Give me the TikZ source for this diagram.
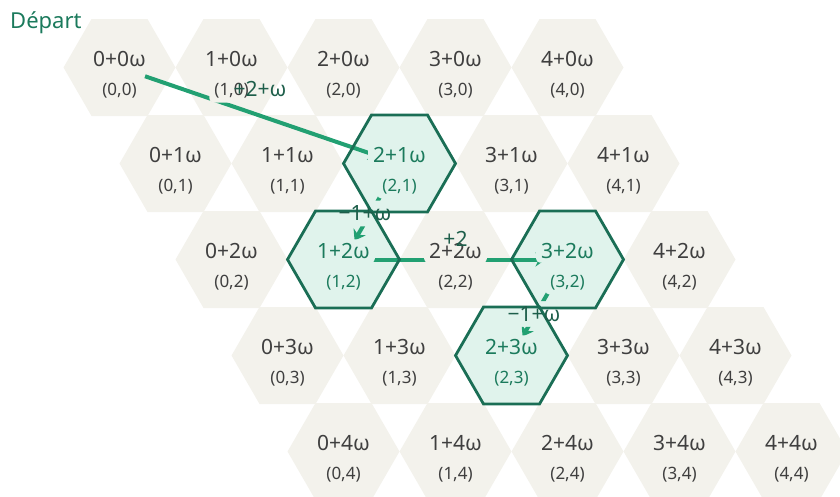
\documentclass[tikz,border=0pt]{standalone}
\usepackage{fontspec}
\setmainfont{Noto Sans}
\usetikzlibrary{shapes.geometric, arrows.meta, positioning, calc}
\definecolor{cellfill}{HTML}{F3F2EC}
\definecolor{hotfill}{HTML}{E0F3EC}
\definecolor{hotline}{HTML}{1A6E55}
\definecolor{movecol}{HTML}{22A072}
\definecolor{hottext}{HTML}{1B7A5C}
\definecolor{celltext}{HTML}{3F3F3F}
\definecolor{movetext}{HTML}{1D5E4A}
\pgfdeclarelayer{cells}
\pgfdeclarelayer{moves}
\pgfsetlayers{cells,moves,main}

\begin{document}
\begin{tikzpicture}[x=1pt, y=1pt,
    hexcell/.style={regular polygon, regular polygon sides=6, minimum size=112pt,
      inner sep=0pt, outer sep=0pt, fill=cellfill},
    hexring/.style={regular polygon, regular polygon sides=6, minimum size=112pt,
      inner sep=0pt, outer sep=0pt, draw=hotline, line width=2.8pt},
    numlbl/.style={fill=cellfill, text=celltext, font=\fontsize{21}{23}\selectfont,
      inner xsep=5pt, inner ysep=4pt, rounded corners=4pt},
    poslbl/.style={numlbl, font=\fontsize{17}{19}\selectfont},
    hot/.style={fill=hotfill, text=hottext},
    hot21/.style={hot}, hot12/.style={hot}, hot32/.style={hot}, hot23/.style={hot},
    move/.style={draw=movecol, line width=4pt, shorten <=27pt, shorten >=22pt,
      -{Stealth[length=10pt, width=14pt]}},
    movelbl/.style={text=movetext, font=\fontsize{21}{23}\selectfont, inner sep=0pt}]
  \useasboundingbox (0,0) rectangle (840,-496);
  % Grid of cells
  \begin{pgfonlayer}{cells}
  \foreach \row in {0,...,4}
    \foreach \col in {0,...,4}
      \node[hexcell, hot\col\row/.try] (h\col\row) at ({119.5+112*\col+56*\row}, {-67.5-96*\row}) {};
  \end{pgfonlayer}
  % Cell labels
  \foreach \row in {0,...,4}
    \foreach \col in {0,...,4} {
      \node[numlbl, hot\col\row/.try] (n\col\row) at ([yshift=8.5pt]h\col\row.center) {\col+\row{}ω};
      \node[poslbl, hot\col\row/.try] (p\col\row) at ([yshift=-23.5pt]h\col\row.center) {(\col,\row)};
    }
  % Visited cells
  \foreach \col/\row in {2/1, 1/2, 3/2, 2/3}
    \node[hexring] (r\col\row) at (h\col\row) {};
  % Move labels
  \node[movelbl] (l1) at ($(h00)!0.5!(h21)+(0.5,27)$) {+2+ω};
  \node[movelbl] (l2) at ($(h21)!0.5!(h12)+(-6.5,-2)$) {−1+ω};
  \node[movelbl] (l3) at ($(h12)!0.5!(h32)+(0,21)$) {+2};
  \node[movelbl] (l4) at ($(h32)!0.5!(h23)+(-5.5,-6.5)$) {−1+ω};
  \node[anchor=west, text=hottext, font=\fontsize{22}{24}\selectfont, inner sep=0pt]
    (start) at (10,-23) {Départ};
  % Moves, kept under the labels
  \begin{pgfonlayer}{moves}
  \begin{scope}[even odd rule]
    \clip (0,0) rectangle (840,-496)
      ([shift={(-5,-5)}]l2.south west) rectangle ([shift={(5,5)}]l2.north east)
      ([shift={(-5,-5)}]l4.south west) rectangle ([shift={(5,5)}]l4.north east);
    \draw[move] (h00.center) -- (h21.center);
    \draw[move] (h21.center) -- (h12.center);
    \draw[move] (h12.center) -- (h32.center);
    \draw[move] (h32.center) -- (h23.center);
  \end{scope}
  \end{pgfonlayer}
\end{tikzpicture}
\end{document}
